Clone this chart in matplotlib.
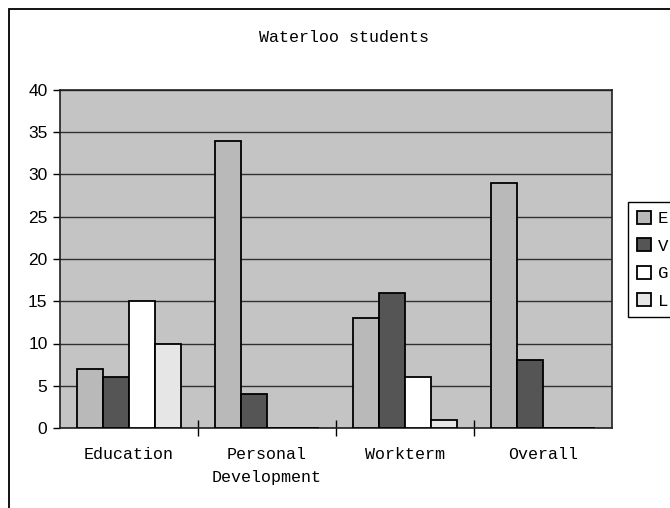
import numpy as np
import matplotlib.pyplot as plt
from matplotlib.patches import Rectangle

# data
categories = ["Education", "Personal\nDevelopment", "Workterm", "Overall"]
series_names = ["E", "V", "G", "L"]
values_E = [7, 34, 13, 29]
values_V = [6, 4, 16, 8]
values_G = [15, 0, 6, 0]
values_L = [10, 0, 1, 0]
y_ticks = [0, 5, 10, 15, 20, 25, 30, 35, 40]

series = [values_E, values_V, values_G, values_L]
colors = ["#b9b9b9", "#555555", "#ffffff", "#e6e6e6"]

mono = "Liberation Mono"
sans = "Liberation Sans"

fig = plt.figure(figsize=(6.7, 5.08), dpi=100)
ax = fig.add_axes([60 / 670, 1 - 428 / 508, 552 / 670, 338 / 508])
ax.set_facecolor("#c4c4c4")

x = np.arange(len(categories))
w = 0.1875
for i, (vals, col, name) in enumerate(zip(series, colors, series_names)):
    ax.bar(x + (i - 1.5) * w, vals, width=w, color=col, edgecolor="black",
           linewidth=1.3, label=name, zorder=3)

ax.set_xlim(-0.5, 3.5)
ax.set_ylim(0, 40)
ax.set_yticks(y_ticks)
ax.yaxis.grid(True, color="#303030", linewidth=1, zorder=1)
ax.set_axisbelow(True)
for lab in ax.get_yticklabels():
    lab.set_fontfamily(sans)
    lab.set_fontsize(12.5)
ax.tick_params(axis="y", direction="out", length=5, width=1, pad=4)

# category separators as major ticks, names as minor tick labels
ax.set_xticks([0.5, 1.5, 2.5])
ax.set_xticklabels([])
ax.tick_params(axis="x", which="major", direction="inout", length=12, width=1)
ax.set_xticks(x, minor=True)
ax.set_xticklabels(categories, minor=True, fontfamily=mono, fontsize=12,
                   linespacing=1.6)
ax.tick_params(axis="x", which="minor", length=0, pad=14)

for s in ax.spines.values():
    s.set_color("#202020")
    s.set_linewidth(1.2)

fig.text(344 / 670, 1 - 38 / 508, "Waterloo students", ha="center", va="center",
         fontfamily=mono, fontsize=12)

leg = fig.legend(loc="upper left", bbox_to_anchor=(628 / 670, 1 - 202 / 508),
                 borderaxespad=0, prop={"family": mono, "size": 12.5},
                 handlelength=0.8, handleheight=0.8, handletextpad=0.4,
                 labelspacing=0.68, fancybox=False, framealpha=1,
                 edgecolor="black", borderpad=0.5)
leg.get_frame().set_linewidth(1)

# outer chart border (runs off the right and bottom edges)
fig.patches.append(Rectangle((9 / 670, -0.1), 1.0, 1.1 - 9 / 508,
                             transform=fig.transFigure, fill=False,
                             edgecolor="black", linewidth=1.3))

fig.savefig("out.png", dpi=100)
